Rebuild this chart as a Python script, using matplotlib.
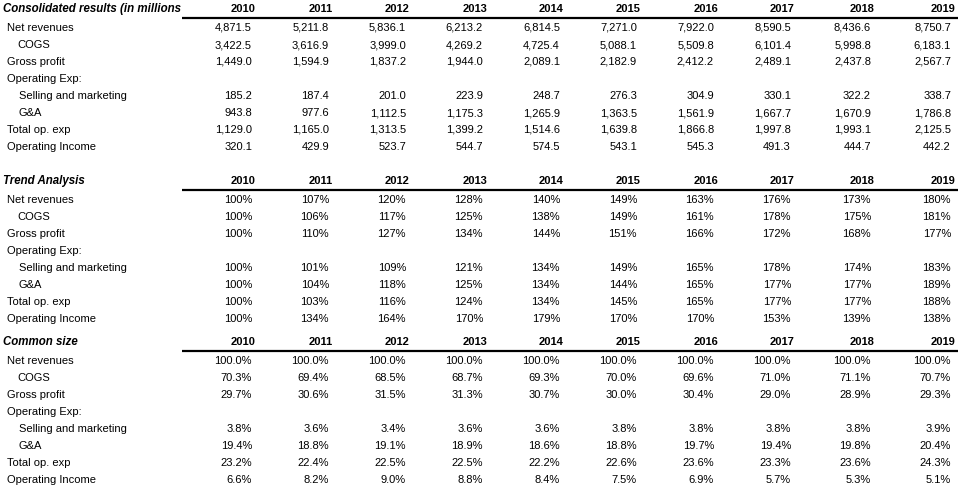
import matplotlib
matplotlib.use("Agg")
import matplotlib.pyplot as plt

plt.rcParams['font.family'] = ['Liberation Sans', 'DejaVu Sans']

years = [2010, 2011, 2012, 2013, 2014, 2015, 2016, 2017, 2018, 2019]

row_labels = ["Net revenues", "COGS", "Gross profit", "Operating Exp:",
              "Selling and marketing", "G&A", "Total op. exp", "Operating Income"]
row_indent = [0, 1, 0, 0, 2, 2, 0, 0]

# consolidated results (in millions)
net_revenues = [4871.5, 5211.8, 5836.1, 6213.2, 6814.5, 7271.0, 7922.0, 8590.5, 8436.6, 8750.7]
cogs = [3422.5, 3616.9, 3999.0, 4269.2, 4725.4, 5088.1, 5509.8, 6101.4, 5998.8, 6183.1]
gross_profit = [1449.0, 1594.9, 1837.2, 1944.0, 2089.1, 2182.9, 2412.2, 2489.1, 2437.8, 2567.7]
selling = [185.2, 187.4, 201.0, 223.9, 248.7, 276.3, 304.9, 330.1, 322.2, 338.7]
g_and_a = [943.8, 977.6, 1112.5, 1175.3, 1265.9, 1363.5, 1561.9, 1667.7, 1670.9, 1786.8]
total_opex = [1129.0, 1165.0, 1313.5, 1399.2, 1514.6, 1639.8, 1866.8, 1997.8, 1993.1, 2125.5]
op_income = [320.1, 429.9, 523.7, 544.7, 574.5, 543.1, 545.3, 491.3, 444.7, 442.2]

# trend analysis (% of 2010)
trend_net_revenues = [100, 107, 120, 128, 140, 149, 163, 176, 173, 180]
trend_cogs = [100, 106, 117, 125, 138, 149, 161, 178, 175, 181]
trend_gross_profit = [100, 110, 127, 134, 144, 151, 166, 172, 168, 177]
trend_selling = [100, 101, 109, 121, 134, 149, 165, 178, 174, 183]
trend_g_and_a = [100, 104, 118, 125, 134, 144, 165, 177, 177, 189]
trend_total_opex = [100, 103, 116, 124, 134, 145, 165, 177, 177, 188]
trend_op_income = [100, 134, 164, 170, 179, 170, 170, 153, 139, 138]

# common size (% of net revenues)
cs_net_revenues = [100.0, 100.0, 100.0, 100.0, 100.0, 100.0, 100.0, 100.0, 100.0, 100.0]
cs_cogs = [70.3, 69.4, 68.5, 68.7, 69.3, 70.0, 69.6, 71.0, 71.1, 70.7]
cs_gross_profit = [29.7, 30.6, 31.5, 31.3, 30.7, 30.0, 30.4, 29.0, 28.9, 29.3]
cs_selling = [3.8, 3.6, 3.4, 3.6, 3.6, 3.8, 3.8, 3.8, 3.8, 3.9]
cs_g_and_a = [19.4, 18.8, 19.1, 18.9, 18.6, 18.8, 19.7, 19.4, 19.8, 20.4]
cs_total_opex = [23.2, 22.4, 22.5, 22.5, 22.2, 22.6, 23.6, 23.3, 23.6, 24.3]
cs_op_income = [6.6, 8.2, 9.0, 8.8, 8.4, 7.5, 6.9, 5.7, 5.3, 5.1]

sections = [
    ("Consolidated results (in millions", "{:,.1f}",
     [net_revenues, cogs, gross_profit, None, selling, g_and_a, total_opex, op_income]),
    ("Trend Analysis", "{:.0f}%",
     [trend_net_revenues, trend_cogs, trend_gross_profit, None,
      trend_selling, trend_g_and_a, trend_total_opex, trend_op_income]),
    ("Common size", "{:.1f}%",
     [cs_net_revenues, cs_cogs, cs_gross_profit, None,
      cs_selling, cs_g_and_a, cs_total_opex, cs_op_income]),
]

W, H = 958, 495
fig = plt.figure(figsize=(W / 100, H / 100), dpi=100)
ax = fig.add_axes([0, 0, 1, 1])
ax.set_xlim(0, W)
ax.set_ylim(H, 0)
ax.axis("off")

# layout in pixels
col_right = [252, 329, 406, 483, 560, 637, 714, 791, 871, 951]
section_top = [9, 181, 342]
row_h = 17
fs = 8
indent_px = [7, 17, 19]

for (title, fmt, rows), y0 in zip(sections, section_top):
    ax.text(3, y0, title, fontsize=8.3, fontweight="bold", fontstyle="italic",
            ha="left", va="center")
    for x, yr in zip(col_right, years):
        ax.text(x + 4, y0, str(yr), fontsize=fs, fontweight="bold",
                ha="right", va="center")
    ax.plot([182, W], [y0 + 8.5, y0 + 8.5], color="black", lw=1.6,
            solid_capstyle="butt")
    for i, (label, ind, vals) in enumerate(zip(row_labels, row_indent, rows)):
        y = y0 + row_h * (i + 1) + 2
        ax.text(indent_px[ind], y, label, fontsize=fs, ha="left", va="center")
        if vals is None:
            continue
        for x, v in zip(col_right, vals):
            ax.text(x, y, fmt.format(v), fontsize=fs, ha="right", va="center")

fig.savefig("out.png", dpi=100)
